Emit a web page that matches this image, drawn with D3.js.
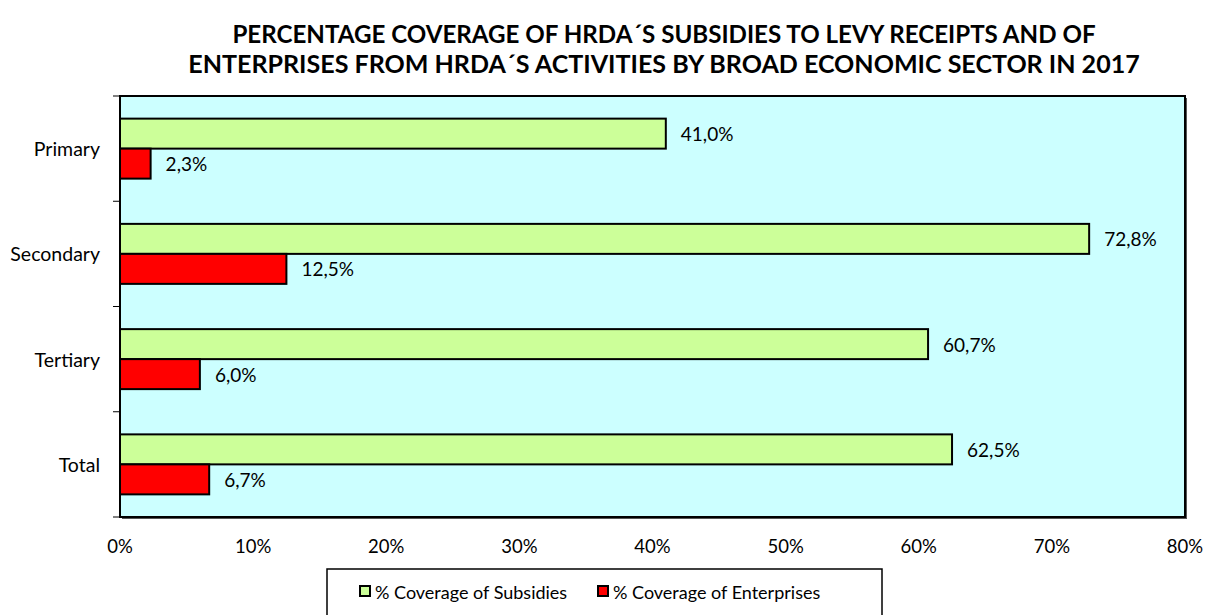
<!DOCTYPE html>
<html>
<head>
<meta charset="utf-8">
<script src="https://cdn.jsdelivr.net/npm/d3@7"></script>
<style>
  body { margin: 0; background: #fff; }
  text { font-family: Lato, "Open Sans", sans-serif; fill: #000; }
</style>
</head>
<body>
<div id="chart"></div>
<script>
var categories = ['Primary', 'Secondary', 'Tertiary', 'Total'];
var subsidies = [41.0, 72.8, 60.7, 62.5];
var enterprises = [2.3, 12.5, 6.0, 6.7];
var xTicks = [0, 10, 20, 30, 40, 50, 60, 70, 80];
var seriesNames = ['% Coverage of Subsidies', '% Coverage of Enterprises'];
var titleLines = [
  'PERCENTAGE COVERAGE OF HRDA\u00B4S SUBSIDIES TO LEVY RECEIPTS AND OF',
  'ENTERPRISES FROM HRDA\u00B4S ACTIVITIES BY BROAD ECONOMIC SECTOR IN 2017'
];

var colors = ['#CCFF99', '#FF0000'];
var W = 1207, H = 615;
var margin = {top: 96, right: 22, bottom: 98, left: 120};
var pw = W - margin.left - margin.right,
    ph = H - margin.top - margin.bottom;

var svg = d3.select('#chart').append('svg')
  .attr('width', W)
  .attr('height', H);

// title, squeezed to the width it has in the picture
var titleWidths = [864, 952];
titleLines.forEach(function(t, i) {
  var tt = svg.append('text')
    .attr('x', 664)
    .attr('y', 33 + i * 30)
    .attr('text-anchor', 'middle')
    .attr('dominant-baseline', 'central')
    .style('font-weight', 'bold')
    .style('font-size', '24px')
    .text(t);
  var len = tt.node().getComputedTextLength();
  tt.style('font-size', (24 * titleWidths[i] / len) + 'px');
});

var g = svg.append('g')
  .attr('transform', 'translate(' + margin.left + ',' + margin.top + ')');

var x = d3.scaleLinear().domain([0, 80]).range([0, pw]);
var y0 = d3.scaleBand().domain(categories).range([0, ph])
  .paddingInner(0.43).paddingOuter(0.215);
var y1 = d3.scaleBand().domain([0, 1]).range([0, y0.bandwidth()]);

// shadow + plot area
g.append('rect')
  .attr('x', 2).attr('y', 2)
  .attr('width', pw).attr('height', ph)
  .attr('fill', '#555');
g.append('rect')
  .attr('width', pw).attr('height', ph)
  .attr('fill', '#CCFFFF')
  .attr('stroke', '#000')
  .attr('stroke-width', 2);

// category boundary ticks on the left
var step = y0.step();
var bounds = d3.range(categories.length + 1).map(function(i) { return i * step; });
g.selectAll('.ytick').data(bounds).enter().append('line')
  .attr('x1', -7).attr('x2', 0)
  .attr('y1', function(d) { return d; })
  .attr('y2', function(d) { return d; })
  .attr('stroke', '#000')
  .attr('stroke-width', 1);

g.selectAll('.ylab').data(categories).enter().append('text')
  .attr('x', -20)
  .attr('y', function(d) { return y0(d) + y0.bandwidth() / 2; })
  .attr('text-anchor', 'end')
  .attr('dominant-baseline', 'central')
  .style('font-size', '19.5px')
  .text(function(d) { return d; });

// x tick labels
g.selectAll('.xlab').data(xTicks).enter().append('text')
  .attr('x', function(d) { return x(d); })
  .attr('y', ph + 29)
  .attr('text-anchor', 'middle')
  .attr('dominant-baseline', 'central')
  .style('font-size', '18.5px')
  .text(function(d) { return d + '%'; });

var series = [subsidies, enterprises];
var fmt = function(v) { return v.toFixed(1).replace('.', ',') + '%'; };

series.forEach(function(vals, s) {
  var grp = g.append('g');
  grp.selectAll('rect').data(vals).enter().append('rect')
    .attr('x', 0)
    .attr('y', function(d, i) { return y0(categories[i]) + y1(s); })
    .attr('width', function(d) { return x(d); })
    .attr('height', y1.bandwidth())
    .attr('fill', colors[s])
    .attr('stroke', '#000')
    .attr('stroke-width', 2);
  grp.selectAll('text').data(vals).enter().append('text')
    .attr('x', function(d) { return x(d) + 15; })
    .attr('y', function(d, i) { return y0(categories[i]) + y1(s) + y1.bandwidth() / 2; })
    .attr('dominant-baseline', 'central')
    .style('font-size', '19px')
    .text(fmt);
});

// legend
var leg = svg.append('g').attr('transform', 'translate(327,569)');
leg.append('rect')
  .attr('width', 555).attr('height', 60)
  .attr('fill', '#fff')
  .attr('stroke', '#000')
  .attr('stroke-width', 1.5);
var itemX = [33, 271];
seriesNames.forEach(function(name, i) {
  leg.append('rect')
    .attr('x', itemX[i]).attr('y', 17)
    .attr('width', 10).attr('height', 10)
    .attr('fill', colors[i])
    .attr('stroke', '#000')
    .attr('stroke-width', 2);
  leg.append('text')
    .attr('x', itemX[i] + 15)
    .attr('y', 23)
    .attr('dominant-baseline', 'central')
    .style('font-size', '18px')
    .text(name);
});
</script>
</body>
</html>
